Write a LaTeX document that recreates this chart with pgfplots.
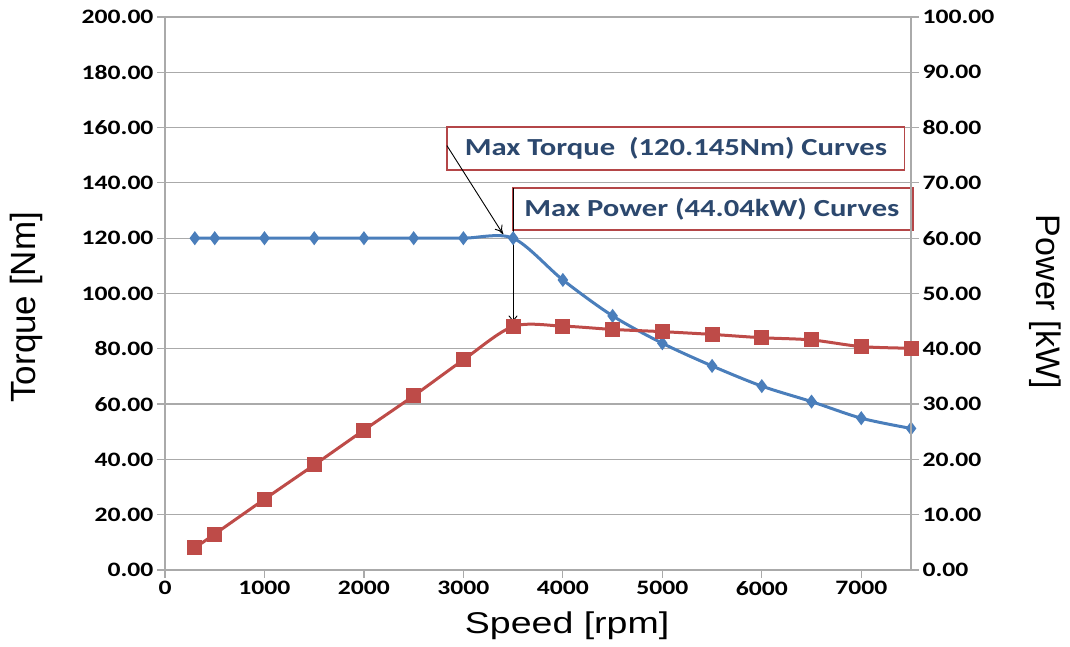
\documentclass[border=0pt]{standalone}
\usepackage{fontspec}
\setmainfont{Carlito}[FakeStretch=1.25]
\newfontfamily\arialfont{Liberation Sans}
\newfontfamily\arialwide{Liberation Sans}[FakeStretch=1.25]
\usepackage{pgfplots}
\pgfplotsset{compat=1.18}
\usetikzlibrary{arrows.meta}

\definecolor{tblue}{RGB}{74,126,187}
\definecolor{pred}{RGB}{190,75,72}
\definecolor{gridgray}{RGB}{170,170,170}
\definecolor{notetext}{RGB}{44,72,110}
\definecolor{notebox}{RGB}{180,70,72}

\pgfplotsset{
  common/.style={
    scale only axis, width=746pt, height=553pt,
    at={(165pt,77pt)}, anchor=south west,
    xmin=0, xmax=7500,
    tick align=outside,
    major tick length=8pt,
    tick style={gridgray, line width=1.2pt},
    axis line style={gridgray, line width=1.2pt},
    tick label style={font=\bfseries\fontsize{20.5}{24}\selectfont, text=black},
    /pgf/number format/assume math mode=true,
    scaled ticks=false,
  },
}

\begin{document}
\begin{tikzpicture}[x=1pt,y=1pt]
\useasboundingbox (0,0) rectangle (1070,647);

% torque, left axis
\begin{axis}[
  common,
  clip=false,
  ymin=0, ymax=200,
  xtick={0,1000,...,7000},
  ytick={0,20,...,200},
  axis x line*=bottom,
  axis y line*=left,
  ymajorgrids,
  grid style={gridgray, line width=1.2pt},
  xticklabel style={/pgf/number format/1000 sep={}},
  yticklabel style={/pgf/number format/.cd, fixed, fixed zerofill, precision=2},
  xlabel={Speed [rpm]},
  ylabel={Torque [Nm]},
  every axis x label/.style={at={(axis description cs:0.539,-0.101)}, anchor=center,
    font=\arialwide\fontsize{30}{30}\selectfont},
  every axis y label/.style={at={(axis description cs:-0.186,0.475)}, anchor=center, rotate=90,
    font=\arialfont\fontsize{35}{35}\selectfont},
]
\addplot[color=tblue, line width=3pt, smooth, mark=diamond*, mark size=4.6pt,
  mark options={solid, fill=tblue}] coordinates {
  (300,120.0) (500,120.0) (1000,120.0) (1500,120.0) (2000,120.0) (2500,120.0)
  (3000,120.0) (3500,120.0) (4000,104.9) (4500,91.9) (5000,82.0) (5500,73.8)
  (6000,66.5) (6500,60.9) (7000,54.9) (7500,51.2)
};

\draw[fill=white, draw=notebox, line width=1.5pt]
  (axis cs:2834,144.7) rectangle (axis cs:7437,160.2);
\node[text=notetext, font=\bfseries\fontsize{24.5}{27}\selectfont]
  at (axis cs:5137,152.4) {Max Torque\ \ (120.145Nm) Curves};
\draw[fill=white, draw=notebox, line width=1.5pt]
  (axis cs:3499,123.0) rectangle (axis cs:7520,138.2);
\node[text=notetext, font=\bfseries\fontsize{24.5}{27}\selectfont]
  at (axis cs:5499,130.6) {Max Power (44.04kW) Curves};

\draw[black, line width=0.9pt, -{To[length=9pt, width=9pt]}]
  (axis cs:2834,153.5) -- (axis cs:3400,121.4);
\draw[black, line width=0.9pt, -{To[length=9pt, width=9pt]}]
  (axis cs:3499,138.2) -- (axis cs:3499,88.8);
\end{axis}

% power, right axis
\begin{axis}[
  common,
  ymin=0, ymax=100,
  ytick={0,10,...,100},
  axis x line=none,
  axis y line*=right,
  yticklabel style={/pgf/number format/.cd, fixed, fixed zerofill, precision=2},
  ylabel={Power [kW]},
  every axis y label/.style={at={(axis description cs:1.18,0.485)}, anchor=center, rotate=-90,
    font=\arialfont\fontsize{34}{34}\selectfont},
]
\addplot[color=pred, line width=3pt, smooth, mark=square*, mark size=6pt,
  mark options={solid, fill=pred}] coordinates {
  (300,4.0) (500,6.5) (1000,12.8) (1500,19.0) (2000,25.3) (2500,31.5)
  (3000,38.0) (3500,44.04) (4000,44.1) (4500,43.5) (5000,43.1) (5500,42.6)
  (6000,42.0) (6500,41.6) (7000,40.4) (7500,40.1)
};
\end{axis}
\end{tikzpicture}
\end{document}
